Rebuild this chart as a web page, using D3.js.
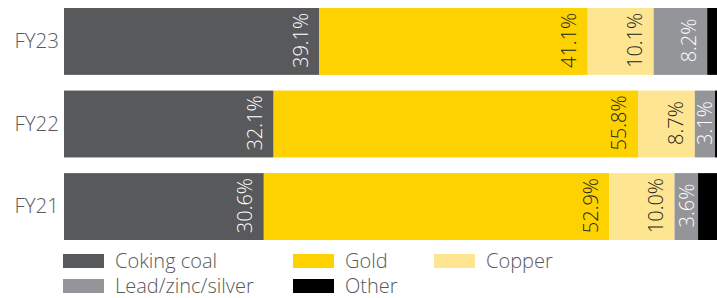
<!DOCTYPE html>
<html><head><meta charset="utf-8">
<script src="https://cdn.jsdelivr.net/npm/d3@7"></script>
<style>
html,body{margin:0;padding:0;background:#fff;}
svg{display:block;font-family:"Open Sans",sans-serif;}
</style></head>
<body><svg id="c" width="717" height="298"></svg>
<script>
const categories = ["FY23", "FY22", "FY21"];
const seriesNames = ["Coking coal", "Gold", "Copper", "Lead/zinc/silver", "Other"];
const cokingCoal = [39.1, 32.1, 30.6];
const gold = [41.1, 55.8, 52.9];
const copper = [10.1, 8.7, 10.0];
const leadZincSilver = [8.2, 3.1, 3.6];
const other = [1.5, 0.3, 2.9];
const labelFormat = v => v.toFixed(1) + "%";

const seriesValues = [cokingCoal, gold, copper, leadZincSilver, other];
const colors = ["#58595b", "#fdd200", "#fee592", "#939598", "#000000"];
const labelColors = ["#ffffff", "#231f20", "#231f20", "#ffffff", null];
const showLabel = [true, true, true, true, false];

const table = categories.map((c, i) => {
  const row = {cat: c};
  seriesNames.forEach((s, j) => row[s] = seriesValues[j][i]);
  return row;
});
const stacked = d3.stack().keys(seriesNames)(table);

const svg = d3.select("#c");
const x = d3.scaleLinear().domain([0, 100]).range([64, 717]);
const y = d3.scaleBand().domain(categories).range([8, 240]).paddingInner(0.19).paddingOuter(0);

const g = svg.append("g");
stacked.forEach((layer, j) => {
  g.selectAll(null).data(layer).join("rect")
    .attr("x", d => x(d[0]))
    .attr("y", d => y(d.data.cat))
    .attr("width", d => x(d[1]) - x(d[0]))
    .attr("height", y.bandwidth())
    .attr("fill", colors[j]);
});

stacked.forEach((layer, j) => {
  if (!showLabel[j]) return;
  g.selectAll(null).data(layer).join("text")
    .attr("transform", d => {
      const x0 = x(d[0]), x1 = x(d[1]);
      const w = x1 - x0;
      const off = Math.min(11.5, (w - 15) / 2);
      const cy = y(d.data.cat) + y.bandwidth() / 2 - 1;
      return `translate(${x1 - off},${cy}) rotate(-90)`;
    })
    .attr("text-anchor", "middle")
    .attr("font-size", 20)
    .attr("font-weight", 300)
    .attr("fill", labelColors[j])
    .text(d => labelFormat(d[1] - d[0]));
});

const yAxis = svg.append("g").attr("transform", "translate(59,0)")
  .call(d3.axisLeft(y).tickSize(0).tickPadding(0));
yAxis.select(".domain").remove();
yAxis.selectAll("text").attr("font-size", 20.5).attr("font-weight", 300)
  .attr("fill", "#58595b").attr("font-family", "Open Sans, sans-serif");

const legendCols = [63, 293, 434];
const legendRows = [254, 279];
const lg = svg.append("g");
seriesNames.forEach((s, i) => {
  const cx = legendCols[i % 3], cy = legendRows[Math.floor(i / 3)];
  lg.append("rect").attr("x", cx).attr("y", cy).attr("width", 41).attr("height", 14).attr("fill", colors[i]);
  lg.append("text").attr("x", cx + 52).attr("y", cy + 13.5).attr("font-size", 20).attr("font-weight", 300)
    .attr("fill", "#58595b").text(s);
});
</script></body></html>
